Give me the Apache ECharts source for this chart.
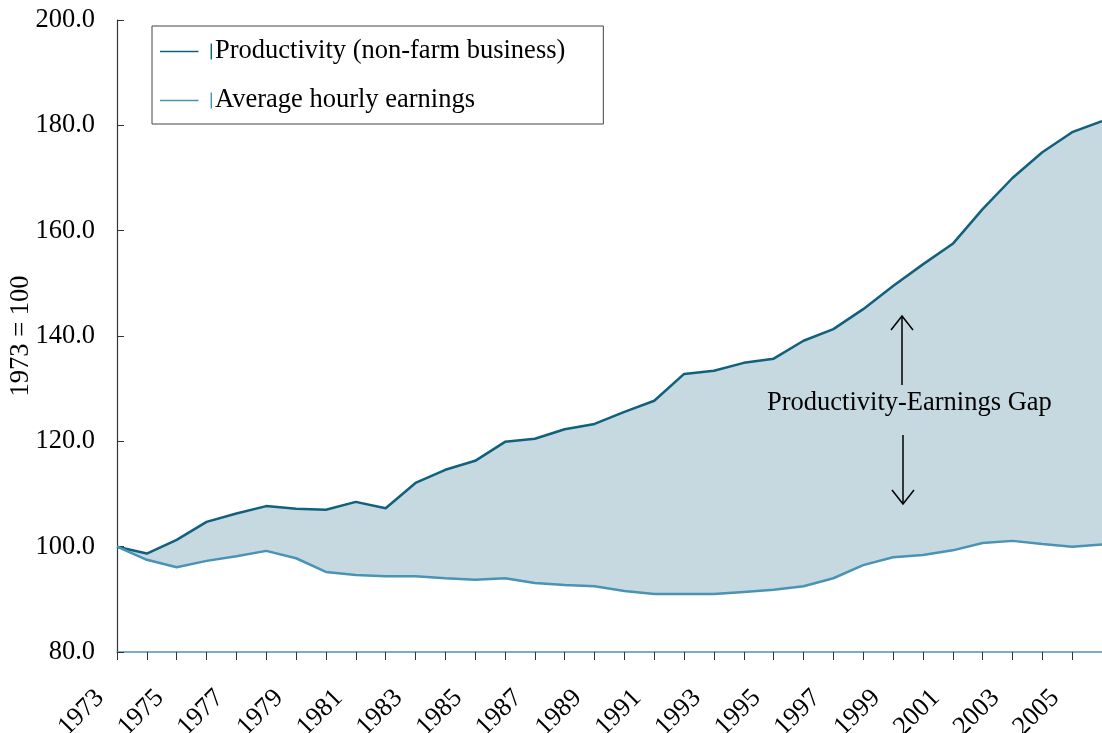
<!DOCTYPE html>
<html>
<head>
<meta charset="utf-8">
<script src="https://cdn.jsdelivr.net/npm/echarts@6/dist/echarts.min.js"></script>
<style>
  html, body { margin: 0; padding: 0; background: #fff; }
  #chart { width: 1102px; height: 733px; }
</style>
</head>
<body>
<div id="chart"></div>
<script>
// values, 1973 = 100
const years = []
for (let y = 1973; y <= 2006; y++) years.push(String(y))

const productivity = [
  100.0, 98.7, 101.3, 104.7, 106.3, 107.7, 107.2, 107.0, 108.5, 107.3,
  112.1, 114.6, 116.3, 119.9, 120.5, 122.3, 123.3, 125.6, 127.7, 132.8,
  133.4, 134.9, 135.7, 139.1, 141.3, 145.1, 149.5, 153.6, 157.5, 164.1,
  170.0, 174.9, 178.7, 180.8
]

const earnings = [
  100.0, 97.5, 96.1, 97.3, 98.2, 99.2, 97.8, 95.2, 94.6, 94.4,
  94.4, 94.0, 93.7, 94.0, 93.1, 92.7, 92.5, 91.6, 91.0, 91.0,
  91.0, 91.4, 91.8, 92.5, 94.0, 96.5, 98.0, 98.4, 99.3, 100.7,
  101.1, 100.5, 100.0, 100.4
]

const prodColor = '#10607e'
const earnColor = '#4a93b5'
const gapFill = '#c6d9e0'
const font = 'Liberation Serif'
const fs = 26.5

// gap between the two lines, stacked on top of earnings so the area fills between them
const gap = productivity.map((v, i) => +(v - earnings[i]).toFixed(2))

const chart = echarts.init(document.getElementById('chart'))

const legendIcon = 'path://M0,8.3h38v1.4h-38z M50,1h1.4v16h-1.4z'

const option = {
  animation: false,
  textStyle: { fontFamily: font },
  grid: { left: 117, right: 0, top: 20, bottom: 81, outerBoundsMode: 'none', containLabel: false },
  legend: {
    orient: 'vertical',
    left: 152,
    top: 26,
    padding: [12, 38, 10, 8],
    itemGap: 22,
    itemWidth: 52,
    itemHeight: 18,
    borderColor: '#444',
    borderWidth: 1,
    textStyle: { fontFamily: font, fontSize: fs, color: '#000', padding: [0, 0, 0, -2] },
    data: [
      { name: 'Productivity (non-farm business)', icon: legendIcon, itemStyle: { color: prodColor } },
      { name: 'Average hourly earnings', icon: legendIcon, itemStyle: { color: earnColor } }
    ]
  },
  xAxis: {
    type: 'category',
    data: years,
    boundaryGap: false,
    axisLine: { lineStyle: { color: earnColor, width: 1.5 } },
    axisTick: { interval: 0, length: 8, lineStyle: { color: '#333' } },
    axisLabel: {
      interval: 1,
      rotate: 45,
      margin: 25,
      padding: [0, 24, 0, 0],
      fontFamily: font,
      fontSize: fs,
      color: '#000',
      hideOverlap: false
    },
    splitLine: { show: false }
  },
  yAxis: {
    type: 'value',
    min: 80,
    max: 200,
    interval: 20,
    name: '1973 = 100',
    nameLocation: 'middle',
    nameGap: 82,
    nameMoveOverlap: false,
    nameTextStyle: { fontFamily: font, fontSize: fs, color: '#000' },
    axisLine: { show: true, lineStyle: { color: '#333', width: 1.2 } },
    axisTick: { show: true, inside: true, length: 7, lineStyle: { color: '#333' } },
    axisLabel: {
      margin: 22,
      fontFamily: font,
      fontSize: fs,
      color: '#000',
      formatter: v => v.toFixed(1)
    },
    splitLine: { show: false }
  },
  series: [
    {
      name: 'Average hourly earnings',
      type: 'line',
      stack: 'gap',
      data: earnings,
      symbol: 'none',
      z: 3,
      lineStyle: { color: earnColor, width: 2.5 },
      itemStyle: { color: earnColor }
    },
    {
      name: 'Productivity (non-farm business)',
      type: 'line',
      stack: 'gap',
      data: gap,
      symbol: 'none',
      z: 2,
      lineStyle: { color: prodColor, width: 2.5 },
      itemStyle: { color: prodColor },
      areaStyle: { color: gapFill, opacity: 1 }
    }
  ],
  graphic: [
    {
      type: 'text',
      left: 767,
      top: 390,
      style: { text: 'Productivity-Earnings Gap', fontFamily: font, fontSize: fs, fill: '#000' },
      z: 10
    },
    {
      type: 'polyline',
      shape: { points: [[902, 385], [902, 316]] },
      style: { stroke: '#000', lineWidth: 1.5 },
      z: 10
    },
    {
      type: 'polyline',
      shape: { points: [[891, 330], [902, 316], [913, 330]] },
      style: { stroke: '#000', lineWidth: 1.5, fill: null },
      z: 10
    },
    {
      type: 'polyline',
      shape: { points: [[903, 435], [903, 504]] },
      style: { stroke: '#000', lineWidth: 1.5 },
      z: 10
    },
    {
      type: 'polyline',
      shape: { points: [[892, 490], [903, 504], [914, 490]] },
      style: { stroke: '#000', lineWidth: 1.5, fill: null },
      z: 10
    }
  ]
}

chart.setOption(option)
</script>
</body>
</html>
